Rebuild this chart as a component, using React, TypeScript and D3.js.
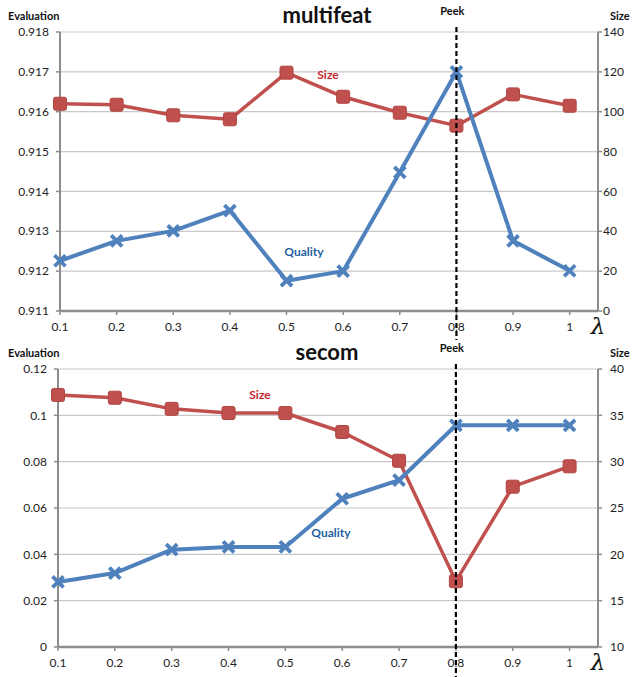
import React from 'react';
import * as d3 from 'd3';

// lambda values on the x axis
const lambdas = [0.1, 0.2, 0.3, 0.4, 0.5, 0.6, 0.7, 0.8, 0.9, 1];

// multifeat panel
const multifeatQuality = [0.91226, 0.91276, 0.91301, 0.91352, 0.91176, 0.9120, 0.91448, 0.9170, 0.91276, 0.91201];
const multifeatSize = [104, 103.5, 98.2, 96.2, 119.6, 107.5, 99.5, 93, 108.7, 103];
const multifeatEvalTicks = [0.911, 0.912, 0.913, 0.914, 0.915, 0.916, 0.917, 0.918];
const multifeatSizeTicks = [0, 20, 40, 60, 80, 100, 120, 140];

// secom panel
const secomQuality = [0.0281, 0.0319, 0.042, 0.0432, 0.0432, 0.064, 0.072, 0.0957, 0.0957, 0.0957];
const secomSize = [37.2, 36.9, 35.7, 35.25, 35.25, 33.2, 30.1, 17.1, 27.3, 29.5];
const secomEvalTicks = [0, 0.02, 0.04, 0.06, 0.08, 0.1, 0.12];
const secomSizeTicks = [10, 15, 20, 25, 30, 35, 40];

const peekLambda = 0.8;

const RED = '#C0504D';
const BLUE = '#4F81BD';
const GRID = '#C8C8C8';
const AXIS = '#8C8C8C';
const FONT = 'Lato, "Open Sans", sans-serif';

type PanelProps = {
  title: string;
  quality: number[];
  size: number[];
  evalTicks: number[];
  sizeTicks: number[];
  evalFormat: (v: number) => string;
  left: number;
  right: number;
  top: number;
  bottom: number;
  rightLabelDx: number;
  sizeLabel: [number, number];
  qualityLabel: [number, number];
  lineBottom: number;
};

const Panel = (props: PanelProps) => {
  const { left, right, top, bottom, quality, size, evalTicks, sizeTicks } = props;

  const x = d3.scaleLinear().domain([0.1, 1.05]).range([left, right]);
  const yEval = d3.scaleLinear().domain(d3.extent(evalTicks) as [number, number]).range([bottom, top]);
  const ySize = d3.scaleLinear().domain(d3.extent(sizeTicks) as [number, number]).range([bottom, top]);

  const qualityLine = d3.line<number>()
    .x((d, i) => x(lambdas[i]))
    .y(d => yEval(d));
  const sizeLine = d3.line<number>()
    .x((d, i) => x(lambdas[i]))
    .y(d => ySize(d));

  const peekX = x(peekLambda);
  const titleX = 327;

  return (
    <g>
      {/* gridlines */}
      {evalTicks.map(t => (
        <line key={'g' + t} x1={left} x2={right} y1={yEval(t)} y2={yEval(t)} stroke={GRID} strokeWidth={1.2} />
      ))}

      {/* left axis */}
      <line x1={left} x2={left} y1={top} y2={bottom} stroke={AXIS} strokeWidth={2} />
      {evalTicks.map(t => (
        <g key={'l' + t}>
          <line x1={left - 4} x2={left} y1={yEval(t)} y2={yEval(t)} stroke={AXIS} strokeWidth={1.5} />
          <text x={left - 11} y={yEval(t)} dy="0.35em" textAnchor="end" fontSize={12} fill="#222" fontFamily={FONT}>
            {props.evalFormat(t)}
          </text>
        </g>
      ))}

      {/* right axis */}
      <line x1={right} x2={right} y1={top} y2={bottom} stroke={AXIS} strokeWidth={2} />
      {sizeTicks.map(t => (
        <g key={'r' + t}>
          <line x1={right} x2={right + 4} y1={ySize(t)} y2={ySize(t)} stroke={AXIS} strokeWidth={1.5} />
          <text x={right + props.rightLabelDx} y={ySize(t)} dy="0.35em" textAnchor="start" fontSize={12} fill="#222" fontFamily={FONT}>
            {t}
          </text>
        </g>
      ))}

      {/* x axis */}
      <line x1={left} x2={right} y1={bottom} y2={bottom} stroke={AXIS} strokeWidth={2.5} />
      {lambdas.map(l => (
        <g key={'x' + l}>
          <line x1={x(l)} x2={x(l)} y1={bottom} y2={bottom + 4} stroke={AXIS} strokeWidth={1.5} />
          <text x={x(l)} y={bottom + 20} textAnchor="middle" fontSize={12} fill="#222" fontFamily={FONT}>
            {String(l)}
          </text>
        </g>
      ))}
      <text x={right} y={bottom + 23} textAnchor="middle" fontSize={23} fontStyle="italic" fill="#111" fontFamily='"DejaVu Serif", serif'>λ</text>

      {/* axis titles */}
      <text x={8} y={top - 12} fontSize={11} fontWeight="bold" fill="#111" fontFamily={FONT}>Evaluation</text>
      <text x={right + 12} y={top - 12} fontSize={11} fontWeight="bold" fill="#111" fontFamily={FONT}>Size</text>
      <text x={titleX} y={top - 9} textAnchor="middle" fontSize={22} fontWeight="bold" fill="#111" fontFamily={FONT}>{props.title}</text>

      {/* series */}
      <path d={sizeLine(size) || ''} fill="none" stroke={RED} strokeWidth={3.5} strokeLinejoin="round" />
      {size.map((v, i) => (
        <rect key={'s' + i} x={x(lambdas[i]) - 6.5} y={ySize(v) - 6.5} width={13} height={13} rx={2}
          fill={RED} stroke="#B04542" strokeWidth={1} />
      ))}
      <path d={qualityLine(quality) || ''} fill="none" stroke={BLUE} strokeWidth={4} strokeLinejoin="round" />
      {quality.map((v, i) => {
        const cx = x(lambdas[i]);
        const cy = yEval(v);
        const r = 5.5;
        return (
          <path key={'q' + i} d={`M${cx - r},${cy - r}L${cx + r},${cy + r}M${cx - r},${cy + r}L${cx + r},${cy - r}`}
            stroke={BLUE} strokeWidth={3.8} strokeLinecap="butt" />
        );
      })}

      {/* inline labels */}
      <text x={props.sizeLabel[0]} y={props.sizeLabel[1]} dy="0.35em" textAnchor="middle" fontSize={12} fontWeight="bold" fill="#C4282D" fontFamily={FONT}>Size</text>
      <text x={props.qualityLabel[0]} y={props.qualityLabel[1]} dy="0.35em" textAnchor="middle" fontSize={12} fontWeight="bold" fill="#1F5F9F" fontFamily={FONT}>Quality</text>

      {/* peek marker */}
      <line x1={peekX} x2={peekX} y1={top - 5} y2={props.lineBottom} stroke="#000" strokeWidth={2.2} strokeDasharray="5,3" />
      <text x={peekX - 4} y={top - 17} textAnchor="middle" fontSize={11} fontWeight="bold" fill="#111" fontFamily={FONT}>Peek</text>
    </g>
  );
};

const App = () => {
  return (
    <svg width={633} height={677} style={{ position: 'absolute', left: 0, top: 0, background: '#fff' }}>
      <rect width={633} height={677} fill="#fff" />
      <Panel
        title="multifeat"
        quality={multifeatQuality}
        size={multifeatSize}
        evalTicks={multifeatEvalTicks}
        sizeTicks={multifeatSizeTicks}
        evalFormat={d3.format('.3f')}
        left={60}
        right={598}
        top={32}
        bottom={311}
        rightLabelDx={5}
        sizeLabel={[328, 75]}
        qualityLabel={[304, 252]}
        lineBottom={340}
      />
      <Panel
        title="secom"
        quality={secomQuality}
        size={secomSize}
        evalTicks={secomEvalTicks}
        sizeTicks={secomSizeTicks}
        evalFormat={(v: number) => String(v)}
        left={58}
        right={598}
        top={369}
        bottom={647}
        rightLabelDx={12}
        sizeLabel={[260, 395]}
        qualityLabel={[331, 533]}
        lineBottom={677}
      />
    </svg>
  );
};

export default App;
